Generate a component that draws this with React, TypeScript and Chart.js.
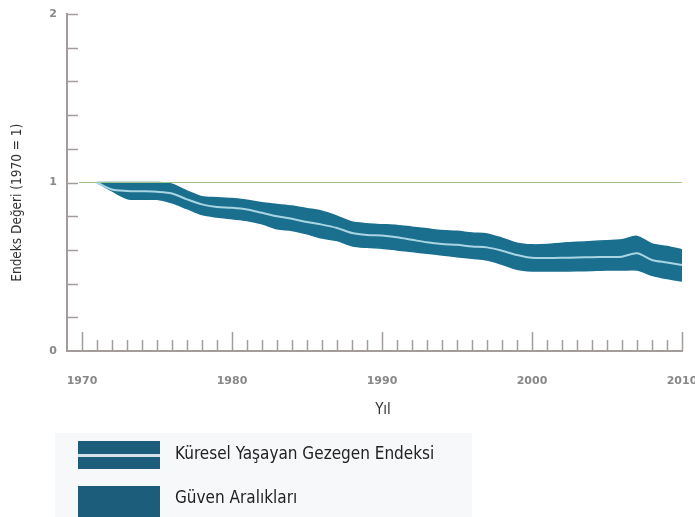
import React, { useEffect, useRef } from "react";
import { Chart, registerables } from "chart.js";

Chart.register(...registerables);

// ---- data ----
const years = [
  1971, 1972, 1973, 1974, 1975, 1976, 1977, 1978, 1979, 1980,
  1981, 1982, 1983, 1984, 1985, 1986, 1987, 1988, 1989, 1990,
  1991, 1992, 1993, 1994, 1995, 1996, 1997, 1998, 1999, 2000,
  2001, 2002, 2003, 2004, 2005, 2006, 2007, 2008, 2009, 2010,
];
const indexValues = [
  1.0, 0.958, 0.95, 0.948, 0.945, 0.935, 0.9, 0.87, 0.855, 0.85,
  0.84, 0.82, 0.8, 0.785, 0.765, 0.75, 0.73, 0.7, 0.688, 0.685,
  0.675, 0.66, 0.645, 0.635, 0.63, 0.62, 0.615, 0.595, 0.57, 0.553,
  0.552, 0.553, 0.555, 0.557, 0.558, 0.56, 0.58, 0.54, 0.525, 0.51,
];
const upperValues = [
  1.0, 1.0, 1.0, 1.0, 1.0, 0.99, 0.95, 0.915, 0.91, 0.905,
  0.895, 0.88, 0.87, 0.86, 0.845, 0.83, 0.8, 0.765, 0.755, 0.75,
  0.745, 0.735, 0.725, 0.715, 0.71, 0.7, 0.695, 0.67, 0.64, 0.63,
  0.632, 0.64, 0.645, 0.65, 0.655, 0.66, 0.68, 0.635, 0.62, 0.6,
];
const lowerValues = [
  1.0, 0.95, 0.905, 0.9, 0.9, 0.88, 0.845, 0.81, 0.795, 0.785,
  0.775, 0.755, 0.725, 0.715, 0.695, 0.67, 0.655, 0.625, 0.615, 0.61,
  0.6, 0.59, 0.58, 0.57, 0.56, 0.55, 0.54, 0.515, 0.485, 0.475,
  0.475, 0.475, 0.476, 0.478, 0.48, 0.48, 0.48, 0.45, 0.43, 0.415,
];
const baselineYears = [1969.8, 2010];
const baselineValues = [1, 1];
const xTickLabels = [1970, 1980, 1990, 2000, 2010];
const yTickLabels = [0, 1, 2];
const legendLabels = ["Küresel Yaşayan Gezegen Endeksi", "Güven Aralıkları"];
const yAxisTitle = "Endeks Değeri (1970 = 1)";
const xAxisTitle = "Yıl";

// ---- styles ----
const BAND = "#1a6f8e";
const LEGEND = "#1d5d7c";
const MIDLINE = "#a9d5e3";
const BASELINE = "#9fc483";
const AXIS = "#a49b9b";
const TICKTEXT = "#888888";
const FONT = "'Liberation Sans Narrow', 'DejaVu Sans Condensed', sans-serif";

const toPts = (xs: number[], ys: number[]) => xs.map((x, i) => ({ x, y: ys[i] }));

const decorPlugin = {
  id: "decor",
  beforeDatasetsDraw(chart: any) {
    const { ctx, chartArea, scales } = chart;
    const x = scales.x;
    const y = scales.y;
    ctx.save();
    ctx.strokeStyle = AXIS;
    ctx.lineWidth = 1.5;
    ctx.beginPath();
    for (let yr = 1970; yr <= 2010; yr++) {
      const px = Math.round(x.getPixelForValue(yr)) + 0.5;
      const len = yr % 10 === 0 ? 19 : 11;
      ctx.moveTo(px, chartArea.bottom);
      ctx.lineTo(px, chartArea.bottom - len);
    }
    for (let k = 1; k <= 10; k++) {
      const py = Math.round(y.getPixelForValue(k * 0.2)) + 0.5;
      ctx.moveTo(chartArea.left, py);
      ctx.lineTo(chartArea.left + 11, py);
    }
    ctx.stroke();
    ctx.restore();
  },
  afterDraw(chart: any) {
    const { ctx, scales } = chart;
    const x = scales.x;
    const y = scales.y;
    ctx.save();
    ctx.fillStyle = "#333";
    ctx.textAlign = "center";
    ctx.textBaseline = "middle";
    ctx.font = `15px ${FONT}`;
    ctx.fillText(xAxisTitle, x.getPixelForValue(1990) + 1, 410);
    ctx.font = `13.5px ${FONT}`;
    ctx.translate(17, y.getPixelForValue(0.88));
    ctx.rotate(-Math.PI / 2);
    ctx.fillText(yAxisTitle, 0, 0);
    ctx.restore();
  },
};

export default function App() {
  const ref = useRef<HTMLCanvasElement | null>(null);

  useEffect(() => {
    if (!ref.current) return;
    const chart = new Chart(ref.current, {
      type: "line",
      data: {
        datasets: [
          {
            label: legendLabels[0],
            data: toPts(years, indexValues),
            borderColor: MIDLINE,
            borderWidth: 2,
            pointRadius: 0,
            tension: 0.3,
            fill: false,
          },
          {
            label: "baseline",
            data: toPts(baselineYears, baselineValues),
            borderColor: BASELINE,
            borderWidth: 1.2,
            pointRadius: 0,
            fill: false,
          },
          {
            label: legendLabels[1],
            data: toPts(years, upperValues),
            borderColor: BAND,
            backgroundColor: BAND,
            borderWidth: 1.5,
            pointRadius: 0,
            tension: 0.3,
            fill: "+1",
          },
          {
            label: "lower",
            data: toPts(years, lowerValues),
            borderColor: BAND,
            borderWidth: 1.5,
            pointRadius: 0,
            tension: 0.3,
            fill: false,
          },
        ],
      },
      options: {
        animation: false,
        responsive: false,
        maintainAspectRatio: false,
        layout: { padding: { left: 0, top: 14, right: 13, bottom: 97 } },
        plugins: {
          legend: { display: false },
          tooltip: { enabled: false },
        },
        scales: {
          x: {
            type: "linear",
            min: 1969,
            max: 2010,
            grid: { display: false, drawTicks: false },
            border: { display: true, color: AXIS, width: 2 },
            afterBuildTicks: (s: any) => {
              s.ticks = xTickLabels.map((v) => ({ value: v }));
            },
            afterFit: (s: any) => {
              s.height = 69;
              s.paddingLeft = 0;
              s.paddingRight = 0;
              s.paddingTop = 0;
              s.paddingBottom = 0;
            },
            ticks: {
              color: TICKTEXT,
              font: { family: "'DejaVu Sans', sans-serif", size: 11, weight: "bold" },
              padding: 24,
              maxRotation: 0,
              autoSkip: false,
              callback: (v: any) => String(v),
            },
          },
          y: {
            type: "linear",
            min: 0,
            max: 2,
            grid: { display: false, drawTicks: false },
            border: { display: true, color: AXIS, width: 2 },
            afterBuildTicks: (s: any) => {
              s.ticks = yTickLabels.map((v) => ({ value: v }));
            },
            afterFit: (s: any) => {
              s.width = 67;
              s.paddingLeft = 0;
              s.paddingRight = 0;
              s.paddingTop = 0;
              s.paddingBottom = 0;
            },
            ticks: {
              color: TICKTEXT,
              font: { family: "'DejaVu Sans', sans-serif", size: 11, weight: "bold" },
              padding: 10,
              callback: (v: any) => String(v),
            },
          },
        },
      },
      plugins: [decorPlugin],
    });
    return () => chart.destroy();
  }, []);

  const textStyle: React.CSSProperties = {
    position: "absolute",
    left: 175,
    fontFamily: FONT,
    fontSize: 17,
    color: "#222",
    lineHeight: "20px",
    whiteSpace: "nowrap",
  };

  return (
    <div
      style={{
        position: "fixed",
        left: 0,
        top: 0,
        width: 695,
        height: 517,
        overflow: "hidden",
        background: "#fff",
      }}
    >
      <div
        style={{
          position: "absolute",
          left: 55,
          top: 433,
          width: 417,
          height: 84,
          background: "#f6f8f9",
        }}
      />
      <canvas
        ref={ref}
        width={695}
        height={517}
        style={{ position: "absolute", left: 0, top: 0, width: 695, height: 517 }}
      />
      <div
        style={{
          position: "absolute",
          left: 78,
          top: 441,
          width: 82,
          height: 28,
          background: LEGEND,
        }}
      >
        <div
          style={{
            position: "absolute",
            left: 0,
            top: 13,
            width: 82,
            height: 3,
            background: "#d4e3ea",
          }}
        />
      </div>
      <div
        style={{
          position: "absolute",
          left: 78,
          top: 486,
          width: 82,
          height: 31,
          background: LEGEND,
        }}
      />
      <div style={{ ...textStyle, top: 443 }}>{legendLabels[0]}</div>
      <div style={{ ...textStyle, top: 487 }}>{legendLabels[1]}</div>
    </div>
  );
}
